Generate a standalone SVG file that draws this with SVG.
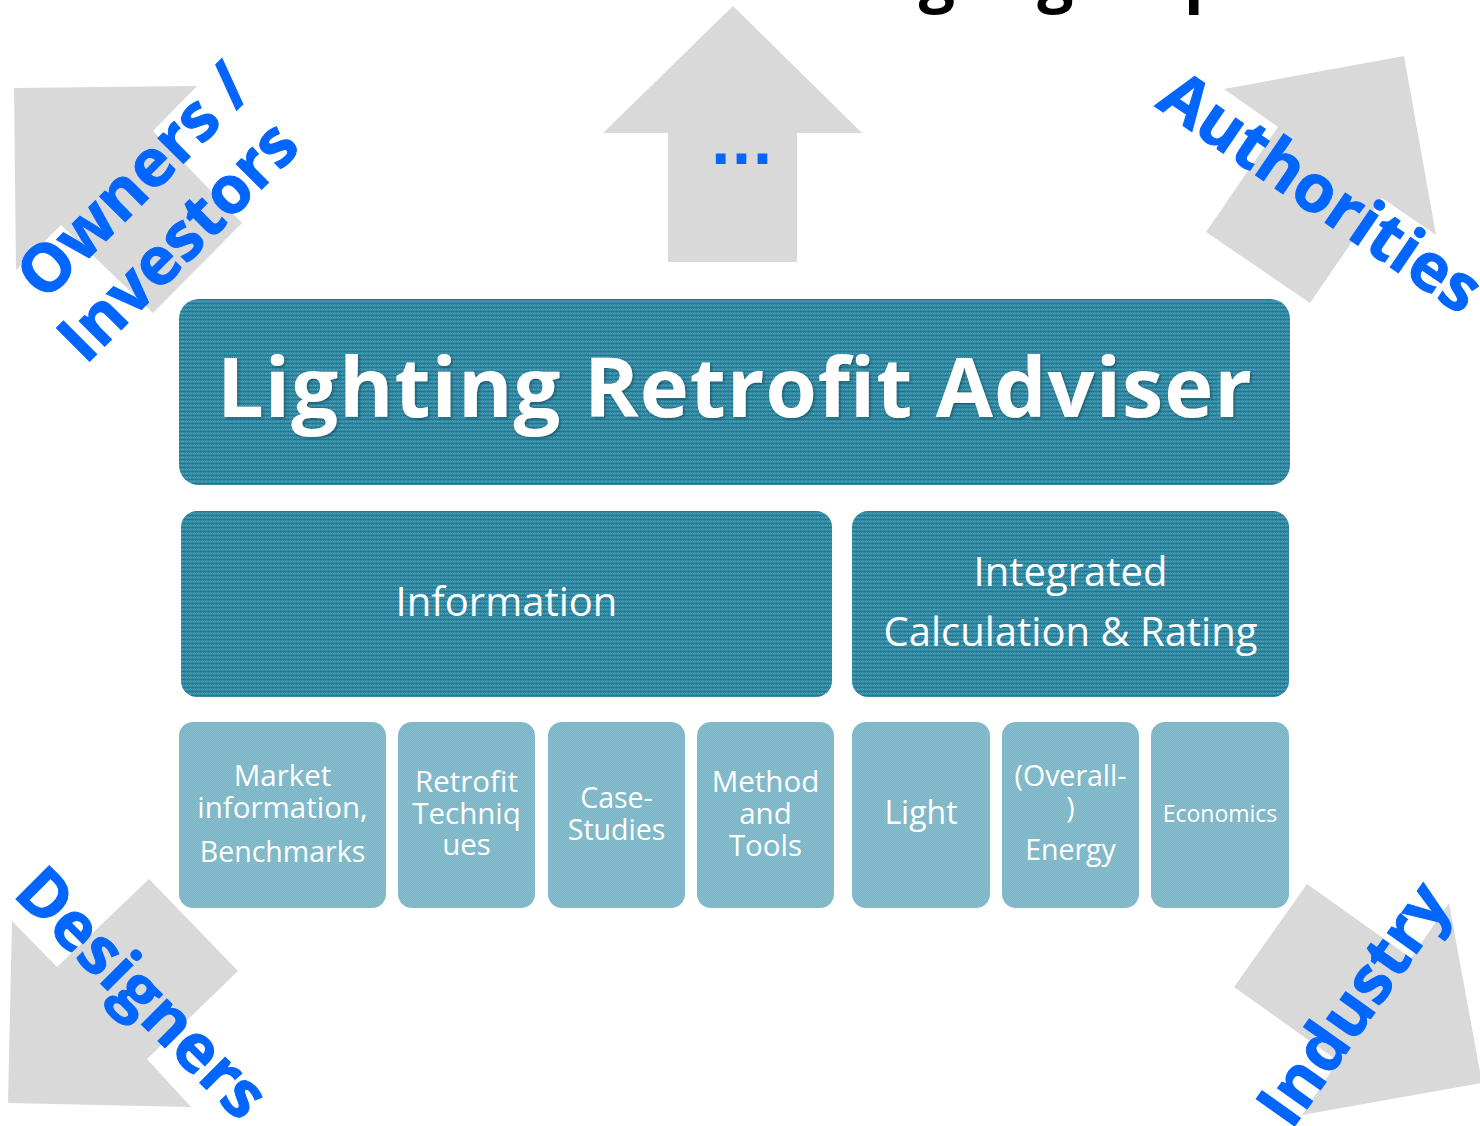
<svg xmlns="http://www.w3.org/2000/svg" width="1480" height="1126" viewBox="0 0 1480 1126">
  <style>
    .arrow { fill: #d9d9d9; }
    .lbl { font-family: "Open Sans", "DejaVu Sans", sans-serif; font-weight: 700; font-size: 66px; fill: #0066ff; stroke: #0066ff; stroke-width: 1px; }
    .dots { font-family: "DejaVu Sans", sans-serif; font-weight: 700; font-size: 55px; fill: #0066ff; }
    .main { fill: url(#gridDark); }
    .sub { fill: url(#gridLight); }
    .wt { font-family: "Open Sans", "Liberation Sans", sans-serif; fill: #ffffff; text-anchor: middle; }
    .t40 { font-size: 40px; }
    .t29 { font-size: 29.5px; }
  </style>
  <defs>
    <pattern id="gridDark" width="4" height="4" patternUnits="userSpaceOnUse">
      <rect width="4" height="4" fill="#3189a3"/>
      <rect x="0" y="3" width="4" height="1" fill="#25768f"/>
      <rect x="1" y="1" width="1" height="1" fill="#5ba6bc"/>
      <rect x="3" y="1" width="1" height="1" fill="#4c9cb3"/>
      <rect x="2" y="0" width="1" height="3" fill="#3a90a9"/>
    </pattern>
    <pattern id="gridLight" width="2" height="2" patternUnits="userSpaceOnUse">
      <rect width="2" height="2" fill="#7cb5c6"/>
      <rect x="0" y="0" width="1" height="1" fill="#86bccc"/>
      <rect x="1" y="1" width="1" height="1" fill="#86bccc"/>
    </pattern>
    <filter id="shadow" x="-5%" y="-20%" width="110%" height="140%">
      <feDropShadow dx="1.5" dy="1.5" stdDeviation="1.2" flood-color="#0d3f50" flood-opacity="0.6"/>
    </filter>
  </defs>

  <rect width="1480" height="1126" fill="#ffffff"/>

  <!-- cut-off title at the top edge -->
  <text x="814" y="-1" font-family="'Open Sans', 'DejaVu Sans', sans-serif" font-weight="700" font-size="64" fill="#000000">Target groups</text>

  <g id="connectors">
    <g id="arrow-top">
      <polygon class="arrow" points="733,6 862,133 797,133 797,262 668,262 668,133 603,133"/>
      <text x="741.5" y="164" class="dots" text-anchor="middle">...</text>
    </g>
    <g id="arrow-owners">
      <polygon class="arrow" points="14,88 197,86 153,131 242,223 153,313 61,225 16,270"/>
      <text class="lbl" text-anchor="middle" transform="translate(150,197) rotate(-45)">Owners /</text>
      <text class="lbl" text-anchor="middle" transform="translate(194,257) rotate(-45)">Investors</text>
    </g>
    <g id="arrow-authorities">
      <polygon class="arrow" points="1224,89 1404,56 1436,235 1382,198 1310,303 1206,232 1278,127"/>
      <text class="lbl" text-anchor="middle" transform="translate(1308,211) rotate(34.3)">Authorities</text>
    </g>
    <g id="arrow-designers">
      <polygon class="arrow" points="12,921 57,967 149,879 238,971 147,1059 191,1107 8,1103"/>
      <text class="lbl" text-anchor="middle" transform="translate(126,1009) rotate(45)">Designers</text>
    </g>
    <g id="arrow-industry">
      <polygon class="arrow" points="1307,884 1411,958 1449,903 1482,1083 1302,1115 1338,1061 1234,987"/>
      <text class="lbl" text-anchor="middle" transform="translate(1372,1017) rotate(-54.7)">Industry</text>
    </g>
  </g>

  <g id="title">
    <rect class="main" x="179" y="299" width="1111" height="186" rx="20"/>
    <text class="wt" x="734.5" y="417" font-size="83" font-weight="700" textLength="1035" lengthAdjust="spacing" filter="url(#shadow)">Lighting Retrofit Adviser</text>
  </g>

  <g id="information">
    <rect class="main" x="181" y="511" width="651" height="186" rx="16"/>
    <text class="wt t40" x="506.5" y="616">Information</text>
  </g>

  <g id="calculation">
    <rect class="main" x="852" y="511" width="437" height="186" rx="16"/>
    <text class="wt t40" x="1070.5" y="586">Integrated</text>
    <text class="wt t40" x="1070.5" y="646">Calculation &amp; Rating</text>
  </g>

  <g id="market">
    <rect class="sub" x="179" y="722" width="207" height="186" rx="14"/>
    <text class="wt t29" x="282.5" y="786">Market</text>
    <text class="wt t29" x="282.5" y="818">information,</text>
    <text class="wt" font-size="28.5" x="282.5" y="862">Benchmarks</text>
  </g>

  <g id="retrofit">
    <rect class="sub" x="398" y="722" width="137" height="186" rx="14"/>
    <text class="wt t29" x="466.5" y="792">Retrofit</text>
    <text class="wt t29" x="466.5" y="824">Techniq</text>
    <text class="wt t29" x="466.5" y="855">ues</text>
  </g>

  <g id="case-studies">
    <rect class="sub" x="548" y="722" width="137" height="186" rx="14"/>
    <text class="wt" font-size="28.5" x="616.5" y="808">Case-</text>
    <text class="wt" font-size="28.5" x="616.5" y="840">Studies</text>
  </g>

  <g id="method">
    <rect class="sub" x="697" y="722" width="137" height="186" rx="14"/>
    <text class="wt t29" x="765.5" y="792">Method</text>
    <text class="wt t29" x="765.5" y="824">and</text>
    <text class="wt t29" x="765.5" y="856">Tools</text>
  </g>

  <g id="light">
    <rect class="sub" x="852" y="722" width="138" height="186" rx="14"/>
    <text class="wt" font-size="32" x="921" y="824">Light</text>
  </g>

  <g id="energy">
    <rect class="sub" x="1002" y="722" width="137" height="186" rx="14"/>
    <text class="wt" font-size="28.5" x="1070.5" y="786">(Overall-</text>
    <text class="wt" font-size="28.5" x="1070.5" y="818">)</text>
    <text class="wt" font-size="28.5" x="1070.5" y="860">Energy</text>
  </g>

  <g id="economics">
    <rect class="sub" x="1151" y="722" width="138" height="186" rx="14"/>
    <text class="wt" font-size="23" x="1220" y="822">Economics</text>
  </g>
</svg>
